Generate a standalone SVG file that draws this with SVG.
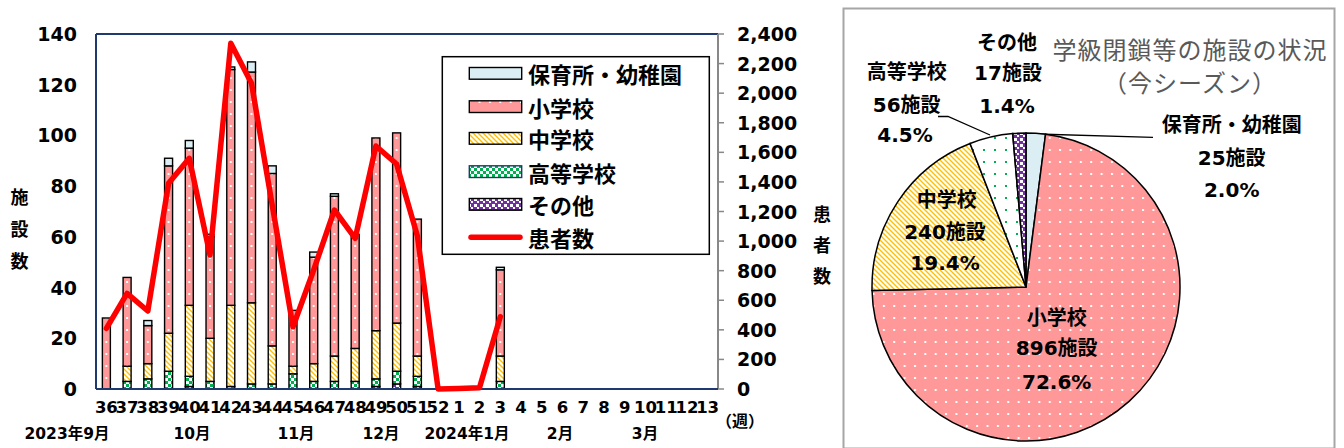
<svg xmlns="http://www.w3.org/2000/svg" width="1344" height="448" viewBox="0 0 1344 448">
<defs>
<style>
.num{font-family:"DejaVu Sans","Noto Sans CJK JP",sans-serif;font-weight:bold;fill:#000;dominant-baseline:central}
.jp{font-family:"Noto Sans CJK JP",sans-serif;font-weight:bold;fill:#000;dominant-baseline:central}
.ax{font-size:19px}
.xl{font-size:16.5px;text-anchor:middle}
.mo{font-size:15.5px;text-anchor:middle}
.leg{font-size:22px}
.pl{font-size:20px;text-anchor:middle}
.title{font-family:"Noto Sans CJK JP",sans-serif;font-weight:normal;fill:#595959;font-size:24px;text-anchor:middle;dominant-baseline:central;letter-spacing:1px}
.bar rect{stroke:#000;stroke-width:1.4}
.nur{fill:#DAEEF3}
.ele{fill:url(#pDotPink)}
.mid{fill:url(#pStripe)}
.hig{fill:url(#pCheck)}
.oth{fill:url(#pPurple)}
.pie path{stroke:#000;stroke-width:1.5}
</style>
<pattern id="pDotPink" patternUnits="userSpaceOnUse" x="95" y="0" width="10.3667" height="12">
<rect width="10.3667" height="12" fill="#FF9999"/>
<rect x="0" y="5" width="2" height="2" fill="#fff"/>
</pattern>
<pattern id="pStripe" patternUnits="userSpaceOnUse" width="5" height="5">
<rect width="5" height="5" fill="#fff"/>
<path d="M0,0 L5,5 M-1,4 L1,6 M4,-1 L6,1" stroke="#FFC000" stroke-width="1.4"/>
</pattern>
<pattern id="pCheck" patternUnits="userSpaceOnUse" width="6" height="6">
<rect width="6" height="6" fill="#fff"/>
<rect width="3" height="3" fill="#00B050"/>
<rect x="3" y="3" width="3" height="3" fill="#00B050"/>
</pattern>
<pattern id="pPurple" patternUnits="userSpaceOnUse" width="6" height="6">
<rect width="6" height="6" fill="#7030A0"/>
<rect width="3" height="3" fill="#fff"/>
<rect x="3" y="3" width="2" height="2" fill="#fff"/>
</pattern>
<pattern id="pDotGreen" patternUnits="userSpaceOnUse" width="11" height="12">
<rect width="11" height="12" fill="#fff"/>
<rect x="4" y="5" width="2" height="2" fill="#00B050"/>
</pattern>
</defs>
<rect width="1344" height="448" fill="#fff"/>

<!-- Bar chart frame and axes -->
<g id="axes">
<line x1="96" y1="34" x2="718" y2="34" stroke="#1F3A6E" stroke-width="2"/>
<line x1="96" y1="34" x2="96" y2="389" stroke="#1F3A6E" stroke-width="2"/>
<line x1="718" y1="34" x2="718" y2="389" stroke="#888" stroke-width="2"/>
<g stroke="#888" stroke-width="1.5">
<line x1="718" y1="389" x2="724" y2="389"/><line x1="718" y1="359.42" x2="724" y2="359.42"/><line x1="718" y1="329.83" x2="724" y2="329.83"/><line x1="718" y1="300.25" x2="724" y2="300.25"/><line x1="718" y1="270.67" x2="724" y2="270.67"/><line x1="718" y1="241.08" x2="724" y2="241.08"/><line x1="718" y1="211.5" x2="724" y2="211.5"/><line x1="718" y1="181.92" x2="724" y2="181.92"/><line x1="718" y1="152.33" x2="724" y2="152.33"/><line x1="718" y1="122.75" x2="724" y2="122.75"/><line x1="718" y1="93.17" x2="724" y2="93.17"/><line x1="718" y1="63.58" x2="724" y2="63.58"/><line x1="718" y1="34" x2="724" y2="34"/>
</g>
<g class="num ax" text-anchor="end">
<text x="77" y="389">0</text><text x="77" y="338.29">20</text><text x="77" y="287.57">40</text><text x="77" y="236.86">60</text><text x="77" y="186.14">80</text><text x="77" y="135.43">100</text><text x="77" y="84.71">120</text><text x="77" y="34">140</text>
</g>
<g class="num ax" text-anchor="start">
<text x="737" y="389">0</text><text x="737" y="359.42">200</text><text x="737" y="329.83">400</text><text x="737" y="300.25">600</text><text x="737" y="270.67">800</text><text x="737" y="241.08">1,000</text><text x="737" y="211.5">1,200</text><text x="737" y="181.92">1,400</text><text x="737" y="152.33">1,600</text><text x="737" y="122.75">1,800</text><text x="737" y="93.17">2,000</text><text x="737" y="63.58">2,200</text><text x="737" y="34">2,400</text>
</g>
<g class="jp" font-size="18" text-anchor="middle">
<text x="19.5" y="196">施</text><text x="19.5" y="228">設</text><text x="19.5" y="260">数</text>
<text x="822" y="213">患</text><text x="822" y="243.5">者</text><text x="822" y="275">数</text>
</g>
<g class="num xl">
<text x="106.37" y="407">36</text><text x="127.1" y="407">37</text><text x="147.83" y="407">38</text><text x="168.57" y="407">39</text><text x="189.3" y="407">40</text><text x="210.03" y="407">41</text><text x="230.77" y="407">42</text><text x="251.5" y="407">43</text><text x="272.23" y="407">44</text><text x="292.97" y="407">45</text><text x="313.7" y="407">46</text><text x="334.43" y="407">47</text><text x="355.17" y="407">48</text><text x="375.9" y="407">49</text><text x="396.63" y="407">50</text><text x="417.37" y="407">51</text><text x="438.1" y="407">52</text><text x="458.87" y="407">1</text><text x="479.6" y="407">2</text><text x="500.33" y="407">3</text><text x="521.03" y="407">4</text><text x="541.77" y="407">5</text><text x="562.5" y="407">6</text><text x="583.23" y="407">7</text><text x="603.97" y="407">8</text><text x="624.7" y="407">9</text><text x="645.43" y="407">10</text><text x="666.17" y="407">11</text><text x="686.9" y="407">12</text><text x="707.63" y="407">13</text>
</g>
<g class="num mo">
<text x="67" y="434">2023年9月</text><text x="192" y="434">10月</text><text x="296" y="434">11月</text><text x="381" y="434">12月</text><text x="467" y="434">2024年1月</text><text x="560" y="434">2月</text><text x="645" y="434">3月</text>
</g>
<text class="jp" x="740" y="420" font-size="16" text-anchor="middle">（週）</text>
</g>

<!-- Bars -->
<g id="bars" class="bar">
<g id="bar-36"><rect class="ele" x="102.37" y="318" width="8" height="71"/></g>
<g id="bar-37"><rect class="hig" x="123.1" y="381.39" width="8" height="7.61"/><rect class="mid" x="123.1" y="366.18" width="8" height="15.21"/><rect class="ele" x="123.1" y="277.43" width="8" height="88.75"/></g>
<g id="bar-38"><rect class="hig" x="143.83" y="378.86" width="8" height="10.14"/><rect class="mid" x="143.83" y="363.64" width="8" height="15.21"/><rect class="ele" x="143.83" y="325.61" width="8" height="38.04"/><rect class="nur" x="143.83" y="320.54" width="8" height="5.07"/></g>
<g id="bar-39"><rect class="hig" x="164.57" y="371.25" width="8" height="17.75"/><rect class="mid" x="164.57" y="333.21" width="8" height="38.04"/><rect class="ele" x="164.57" y="165.86" width="8" height="167.36"/><rect class="nur" x="164.57" y="158.25" width="8" height="7.61"/></g>
<g id="bar-40"><rect class="oth" x="185.3" y="386.46" width="8" height="2.54"/><rect class="hig" x="185.3" y="376.32" width="8" height="10.14"/><rect class="mid" x="185.3" y="305.32" width="8" height="71"/><rect class="ele" x="185.3" y="148.11" width="8" height="157.21"/><rect class="nur" x="185.3" y="140.5" width="8" height="7.61"/></g>
<g id="bar-41"><rect class="hig" x="206.03" y="381.39" width="8" height="7.61"/><rect class="mid" x="206.03" y="338.29" width="8" height="43.11"/><rect class="ele" x="206.03" y="236.86" width="8" height="101.43"/><rect class="nur" x="206.03" y="234.32" width="8" height="2.54"/></g>
<g id="bar-42"><rect class="hig" x="226.77" y="386.46" width="8" height="2.54"/><rect class="mid" x="226.77" y="305.32" width="8" height="81.14"/><rect class="ele" x="226.77" y="69.5" width="8" height="235.82"/><rect class="nur" x="226.77" y="66.96" width="8" height="2.54"/></g>
<g id="bar-43"><rect class="hig" x="247.5" y="383.93" width="8" height="5.07"/><rect class="mid" x="247.5" y="302.79" width="8" height="81.14"/><rect class="ele" x="247.5" y="72.04" width="8" height="230.75"/><rect class="nur" x="247.5" y="61.89" width="8" height="10.14"/></g>
<g id="bar-44"><rect class="hig" x="268.23" y="383.93" width="8" height="5.07"/><rect class="mid" x="268.23" y="345.89" width="8" height="38.04"/><rect class="ele" x="268.23" y="173.46" width="8" height="172.43"/><rect class="nur" x="268.23" y="165.86" width="8" height="7.61"/></g>
<g id="bar-45"><rect class="hig" x="288.97" y="373.79" width="8" height="15.21"/><rect class="mid" x="288.97" y="366.18" width="8" height="7.61"/><rect class="ele" x="288.97" y="310.39" width="8" height="55.79"/></g>
<g id="bar-46"><rect class="hig" x="309.7" y="381.39" width="8" height="7.61"/><rect class="mid" x="309.7" y="363.64" width="8" height="17.75"/><rect class="ele" x="309.7" y="257.14" width="8" height="106.5"/><rect class="nur" x="309.7" y="252.07" width="8" height="5.07"/></g>
<g id="bar-47"><rect class="hig" x="330.43" y="381.39" width="8" height="7.61"/><rect class="mid" x="330.43" y="356.04" width="8" height="25.36"/><rect class="ele" x="330.43" y="196.29" width="8" height="159.75"/><rect class="nur" x="330.43" y="193.75" width="8" height="2.54"/></g>
<g id="bar-48"><rect class="hig" x="351.17" y="381.39" width="8" height="7.61"/><rect class="mid" x="351.17" y="348.43" width="8" height="32.96"/><rect class="ele" x="351.17" y="234.32" width="8" height="114.11"/></g>
<g id="bar-49"><rect class="oth" x="371.9" y="386.46" width="8" height="2.54"/><rect class="hig" x="371.9" y="378.86" width="8" height="7.61"/><rect class="mid" x="371.9" y="330.68" width="8" height="48.18"/><rect class="ele" x="371.9" y="137.96" width="8" height="192.71"/></g>
<g id="bar-50"><rect class="oth" x="392.63" y="383.93" width="8" height="5.07"/><rect class="hig" x="392.63" y="371.25" width="8" height="12.68"/><rect class="mid" x="392.63" y="323.07" width="8" height="48.18"/><rect class="ele" x="392.63" y="132.89" width="8" height="190.18"/></g>
<g id="bar-51"><rect class="oth" x="413.37" y="386.46" width="8" height="2.54"/><rect class="hig" x="413.37" y="376.32" width="8" height="10.14"/><rect class="mid" x="413.37" y="356.04" width="8" height="20.29"/><rect class="ele" x="413.37" y="219.11" width="8" height="136.93"/></g>
<g id="bar-3"><rect class="hig" x="496.33" y="381.39" width="8" height="7.61"/><rect class="mid" x="496.33" y="356.04" width="8" height="25.36"/><rect class="ele" x="496.33" y="269.82" width="8" height="86.21"/><rect class="nur" x="496.33" y="267.29" width="8" height="2.54"/></g>
</g>
<line x1="96" y1="389" x2="718" y2="389" stroke="#1F3A6E" stroke-width="2"/>

<!-- Patients line and leader lines -->
<g id="connectors">
<polyline id="patients-line" fill="none" stroke="#FF0000" stroke-width="5.5" stroke-linejoin="round" stroke-linecap="round" points="106.4,328.3 127.1,293.3 147.8,311 168.6,183.3 189.3,158.3 210,255 230.8,43.3 251.5,83.3 272.2,205 293,326.7 313.7,270 334.4,210 355.2,238.3 375.9,146 396.6,164 417.4,236 438.1,389 458.8,388.5 479.5,387.7 500.3,316.7"/>
<polyline id="leader-high" fill="none" stroke="#000" stroke-width="1.3" points="938,116.5 948,116.5 990,135"/>
<line id="leader-nursery" x1="1036.5" y1="134" x2="1153" y2="137.3" stroke="#000" stroke-width="1.3"/>
</g>

<!-- Legend -->
<g id="legend">
<rect x="442.3" y="56.7" width="267" height="197.6" fill="#fff" stroke="#000" stroke-width="1.5"/>
<rect class="nur" x="469.3" y="67.5" width="52.4" height="11.7" stroke="#000" stroke-width="1.4"/>
<rect class="ele" x="469.3" y="100.8" width="52.4" height="11.7" stroke="#000" stroke-width="1.4"/>
<rect class="mid" x="469.3" y="132.5" width="52.4" height="11.7" stroke="#000" stroke-width="1.4"/>
<rect class="hig" x="469.3" y="165.8" width="52.4" height="11.7" stroke="#1F3A6E" stroke-width="1.4"/>
<rect class="oth" x="469.3" y="198.5" width="52.4" height="11.7" stroke="#000" stroke-width="1.4"/>
<line x1="471" y1="237.3" x2="520" y2="237.3" stroke="#FF0000" stroke-width="5.5" stroke-linecap="round"/>
<g class="jp leg">
<text x="528" y="73.3">保育所・幼稚園</text>
<text x="528" y="106.7">小学校</text>
<text x="528" y="138.3">中学校</text>
<text x="528" y="171.7">高等学校</text>
<text x="528" y="204.3">その他</text>
<text x="528" y="237.3">患者数</text>
</g>
</g>

<!-- Pie chart -->
<g id="pie-frame"><rect x="843.5" y="8.5" width="491" height="440" fill="none" stroke="#A6A6A6" stroke-width="2"/></g>
<g id="pie" class="pie">
<path id="slice-nursery" class="nur" d="M1026,287 L1026,133 A154,154 0 0 1 1045.55,134.25 Z"/>
<path id="slice-elementary" class="ele" d="M1026,287 L1045.55,134.25 A154,154 0 1 1 872.04,290.55 Z"/>
<path id="slice-middle" class="mid" d="M1026,287 L872.04,290.55 A154,154 0 0 1 970.06,143.52 Z"/>
<path id="slice-high" fill="url(#pDotGreen)" d="M1026,287 L970.06,143.52 A154,154 0 0 1 1012.69,133.58 Z"/>
<path id="slice-other" class="oth" d="M1026,287 L1012.69,133.58 A154,154 0 0 1 1026,133 Z"/>
</g>
<g id="pie-title">
<text class="title" x="1190" y="48">学級閉鎖等の施設の状況</text>
<text class="title" x="1190" y="81.5" letter-spacing="0">（今シーズン）</text>
</g>
<g id="label-other" class="num pl">
<text x="1007" y="43.3">その他</text><text x="1008" y="73.3">17施設</text><text x="1007" y="106">1.4%</text>
</g>
<g id="label-high" class="num pl">
<text x="906.7" y="71.7">高等学校</text><text x="906.7" y="105">56施設</text><text x="905" y="135">4.5%</text>
</g>
<g id="label-nursery" class="num pl">
<text x="1231.7" y="125">保育所・幼稚園</text><text x="1231.7" y="158.3">25施設</text><text x="1231.7" y="190">2.0%</text>
</g>
<g id="label-middle" class="num pl">
<text x="946.7" y="200">中学校</text><text x="945" y="231.7">240施設</text><text x="945" y="263.3">19.4%</text>
</g>
<g id="label-elementary" class="num pl">
<text x="1056.7" y="318.3">小学校</text><text x="1056.7" y="348.3">896施設</text><text x="1056.7" y="381.7">72.6%</text>
</g>
</svg>
